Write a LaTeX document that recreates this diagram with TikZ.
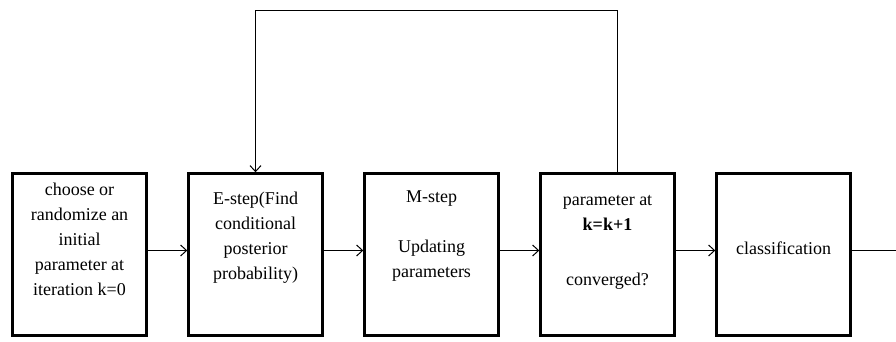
\documentclass[tikz,border=0pt]{standalone}
\usepackage{fontspec}
\setmainfont{Liberation Serif}
\usetikzlibrary{arrows.meta, positioning}
\tikzstyle{block}=[draw,line width=2.4pt,rectangle,minimum width=134pt,minimum height=162pt]
\tikzstyle{txt}=[align=center,inner sep=0pt,font=\fontsize{18}{25}\selectfont]

\begin{document}
\begin{tikzpicture}[x=1pt,y=1pt,node distance=176pt,line width=1pt,>={Straight Barb[length=6pt,width=11pt]}]
    \useasboundingbox (0,0) rectangle (896,341);
    \node[block] (init) at (79.5,86.5) {};
    \node[block, right of=init] (estep) {};
    \node[block, right of=estep] (mstep) {};
    \node[block, right of=mstep] (chk) {};
    \node[block, right of=chk] (cls) {};
    \node[txt, below=10pt of init.north] (tinit) {choose or\\randomize an\\initial\\parameter at\\iteration k=0};
    \node[txt, below=19pt of estep.north] (testep) {E-step(Find\\conditional\\posterior\\probability)};
    \node[txt, below=18pt of mstep.north] (tmstep) {M-step\\[25pt]Updating\\parameters};
    \node[txt, below=23pt of chk.north] (tchk) {parameter at\\\textbf{k=k+1}\\[30pt]converged?};
    \node[txt, below=69pt of cls.north] (tcls) {classification};
    \coordinate (top) at (0,330);
    \coordinate (out) at ([xshift=52pt,yshift=4pt]cls.east);
    \draw[->] ([yshift=4pt]init.east) -- ([yshift=4pt]estep.west);
    \draw[->] ([yshift=4pt]estep.east) -- ([yshift=4pt]mstep.west);
    \draw[->] ([yshift=4pt]mstep.east) -- ([yshift=4pt]chk.west);
    \draw[->] ([yshift=4pt]chk.east) -- ([yshift=4pt]cls.west);
    \draw[->] ([yshift=4pt]cls.east) -- (out);
    \draw[->] ([xshift=10pt]chk.north) |- (top -| estep.north) -- (estep.north);
\end{tikzpicture}
\end{document}
